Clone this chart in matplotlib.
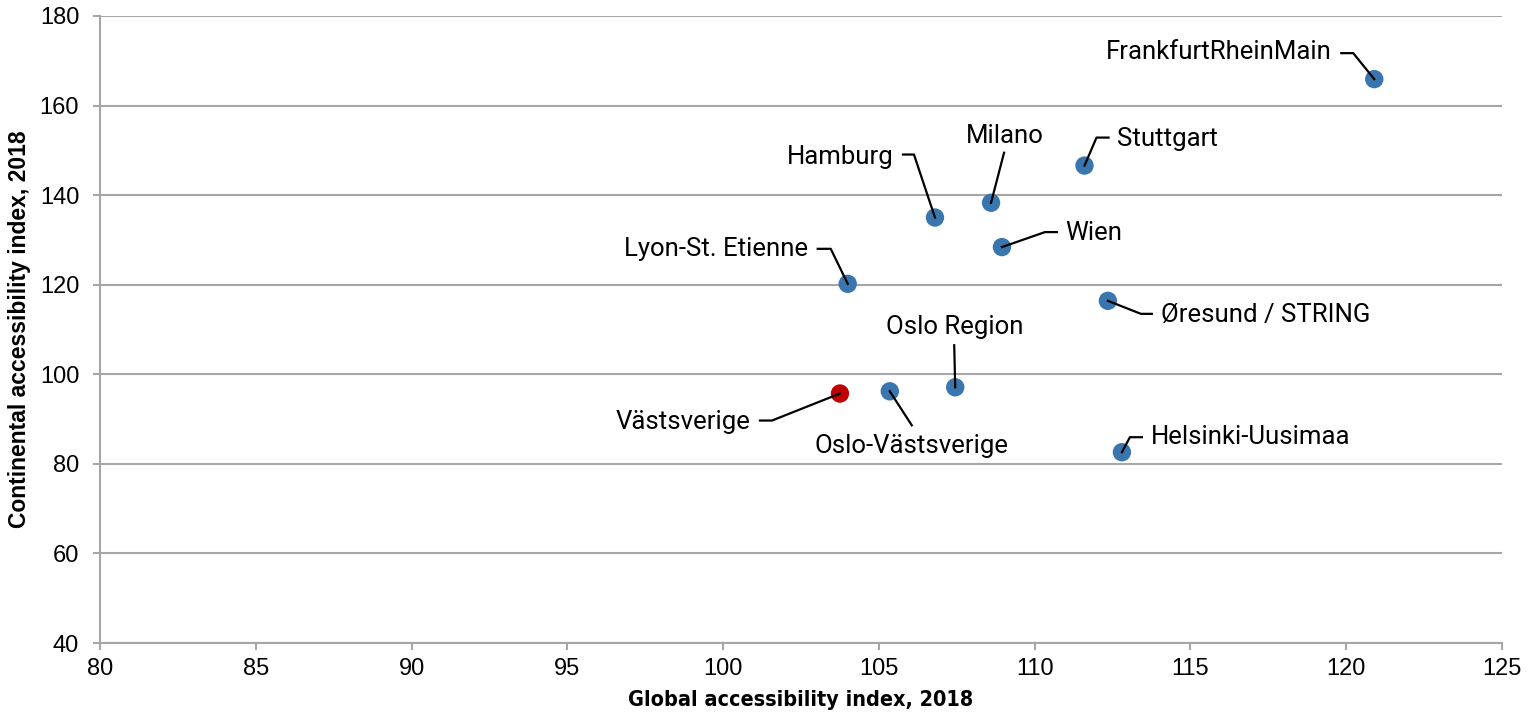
import numpy as np
import matplotlib.pyplot as plt
from matplotlib.lines import Line2D
from matplotlib.transforms import IdentityTransform

# Regional accessibility indices, 2018
regions = ["FrankfurtRheinMain", "Stuttgart", "Milano", "Hamburg", "Wien",
           "Lyon-St. Etienne", "Øresund / STRING", "Oslo Region",
           "Oslo-Västsverige", "Västsverige", "Helsinki-Uusimaa"]
global_idx = [120.9, 111.6, 108.6, 106.8, 108.95, 104.0, 112.35, 107.45,
              105.35, 103.75, 112.8]
continental_idx = [165.9, 146.6, 138.3, 135.0, 128.4, 120.2, 116.4, 97.1,
                   96.2, 95.7, 82.6]
highlight = "Västsverige"

# label placement: text offset (px), alignment, leader vertices (px from point)
label_pos = {
    "FrankfurtRheinMain": ((-43, 27), "right", [(0, 0), (-21, 26), (-33, 26)]),
    "Stuttgart": ((32, 27), "left", [(0, 0), (12, 28), (24, 28)]),
    "Milano": ((14, 67), "center", [(0, 0), (13, 50)]),
    "Hamburg": ((-41, 61), "right", [(0, 0), (-21, 63), (-32, 63)]),
    "Wien": ((63, 14), "left", [(0, 0), (43, 15), (55, 15)]),
    "Lyon-St. Etienne": ((-40, 35), "right", [(0, 0), (-17, 35), (-30, 35)]),
    "Øresund / STRING": ((53, -14), "left", [(0, 0), (33, -13), (44, -13)]),
    "Oslo Region": ((0, 60), "center", [(0, 0), (-1, 42)]),
    "Oslo-Västsverige": ((22, -55), "center", [(0, 0), (22, -34)]),
    "Västsverige": ((-89, -28), "right", [(0, 0), (-68, -27), (-80, -27)]),
    "Helsinki-Uusimaa": ((29, 15), "left", [(0, 0), (8, 15), (20, 15)]),
}

blue = "#3a76ae"
red = "#c00000"
grid_col = "#a6a6a6"

fig = plt.figure(figsize=(15.34, 7.15), dpi=100)
ax = fig.add_axes([100 / 1534, 1 - 643 / 715, 1402 / 1534, 627 / 715])
ax.set_xlim(80, 125)
ax.set_ylim(40, 180)
ax.set_xticks(np.arange(80, 126, 5))
ax.set_yticks(np.arange(40, 181, 20))

for s in ["top", "right"]:
    ax.spines[s].set_visible(False)
for s in ["left", "bottom"]:
    ax.spines[s].set_color(grid_col)
    ax.spines[s].set_linewidth(1.5)
ax.yaxis.grid(True, color=grid_col, linewidth=1.5)
ax.set_axisbelow(True)
ax.tick_params(axis="both", colors=grid_col, length=5, width=1.5,
               labelcolor="black", labelsize=17)
ax.tick_params(axis="y", pad=10)
ax.tick_params(axis="x", pad=6)
for lab in ax.get_xticklabels() + ax.get_yticklabels():
    lab.set_family("Liberation Sans")

colors = [red if r == highlight else blue for r in regions]
ax.scatter(global_idx, continental_idx, s=175, c=colors, zorder=3,
           edgecolors="none")

for name, gx, cy in zip(regions, global_idx, continental_idx):
    (tx, ty), ha, leader = label_pos[name]
    px, py = ax.transData.transform((gx, cy))
    pts = np.array(leader, dtype=float) + [px, py]
    ax.add_line(Line2D(pts[:, 0], pts[:, 1], transform=IdentityTransform(),
                       color="black", linewidth=1.6, zorder=4))
    ax.annotate(name, (gx, cy), xytext=(tx, ty), textcoords="offset pixels",
                ha=ha, va="center", fontsize=18.5, family="Roboto")

ax.set_xlabel("Global accessibility index, 2018", fontsize=15.5,
              family="DejaVu Sans", stretch="condensed", fontweight="bold",
              labelpad=7)
ax.set_ylabel("Continental accessibility index, 2018", fontsize=16.5,
              family="Liberation Sans", fontweight="bold", labelpad=6)

fig.savefig("out.png", dpi=100)
